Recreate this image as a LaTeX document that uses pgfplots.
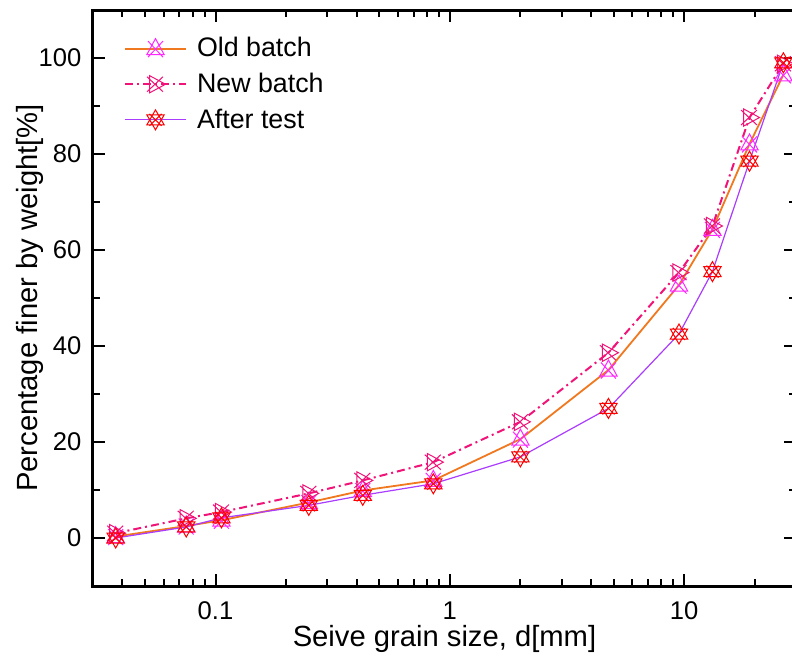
\documentclass[border=0pt]{standalone}
\usepackage{pgfplots}
\pgfplotsset{compat=1.18}
\usepackage{fontspec}
\setmainfont{Liberation Sans}
\definecolor{oldline}{RGB}{240,120,30}
\definecolor{oldmark}{RGB}{255,40,255}
\definecolor{newcol}{RGB}{240,20,120}
\definecolor{afterline}{RGB}{170,60,255}
\definecolor{aftermark}{RGB}{255,0,0}
\pgfdeclareplotmark{tricross}{%
  \pgfpathmoveto{\pgfqpoint{0pt}{\pgfplotmarksize}}%
  \pgfpathlineto{\pgfqpoint{0.866\pgfplotmarksize}{-0.6\pgfplotmarksize}}%
  \pgfpathlineto{\pgfqpoint{-0.866\pgfplotmarksize}{-0.6\pgfplotmarksize}}%
  \pgfpathclose
  \pgfpathmoveto{\pgfqpoint{-0.75\pgfplotmarksize}{-0.85\pgfplotmarksize}}%
  \pgfpathlineto{\pgfqpoint{0.75\pgfplotmarksize}{0.75\pgfplotmarksize}}%
  \pgfpathmoveto{\pgfqpoint{-0.75\pgfplotmarksize}{0.75\pgfplotmarksize}}%
  \pgfpathlineto{\pgfqpoint{0.75\pgfplotmarksize}{-0.85\pgfplotmarksize}}%
  \pgfusepathqstroke
}
\pgfdeclareplotmark{rtricross}{%
  \pgfpathmoveto{\pgfqpoint{\pgfplotmarksize}{0pt}}%
  \pgfpathlineto{\pgfqpoint{-0.6\pgfplotmarksize}{0.866\pgfplotmarksize}}%
  \pgfpathlineto{\pgfqpoint{-0.6\pgfplotmarksize}{-0.866\pgfplotmarksize}}%
  \pgfpathclose
  \pgfpathmoveto{\pgfqpoint{-0.85\pgfplotmarksize}{-0.75\pgfplotmarksize}}%
  \pgfpathlineto{\pgfqpoint{0.75\pgfplotmarksize}{0.75\pgfplotmarksize}}%
  \pgfpathmoveto{\pgfqpoint{-0.85\pgfplotmarksize}{0.75\pgfplotmarksize}}%
  \pgfpathlineto{\pgfqpoint{0.75\pgfplotmarksize}{-0.75\pgfplotmarksize}}%
  \pgfusepathqstroke
}
\pgfdeclareplotmark{starcross}{%
  \pgfpathmoveto{\pgfqpoint{0pt}{\pgfplotmarksize}}%
  \pgfpathlineto{\pgfqpoint{0.866\pgfplotmarksize}{-0.5\pgfplotmarksize}}%
  \pgfpathlineto{\pgfqpoint{-0.866\pgfplotmarksize}{-0.5\pgfplotmarksize}}%
  \pgfpathclose
  \pgfpathmoveto{\pgfqpoint{0pt}{-\pgfplotmarksize}}%
  \pgfpathlineto{\pgfqpoint{0.866\pgfplotmarksize}{0.5\pgfplotmarksize}}%
  \pgfpathlineto{\pgfqpoint{-0.866\pgfplotmarksize}{0.5\pgfplotmarksize}}%
  \pgfpathclose
  \pgfpathmoveto{\pgfqpoint{-0.6\pgfplotmarksize}{-0.6\pgfplotmarksize}}%
  \pgfpathlineto{\pgfqpoint{0.6\pgfplotmarksize}{0.6\pgfplotmarksize}}%
  \pgfpathmoveto{\pgfqpoint{-0.6\pgfplotmarksize}{0.6\pgfplotmarksize}}%
  \pgfpathlineto{\pgfqpoint{0.6\pgfplotmarksize}{-0.6\pgfplotmarksize}}%
  \pgfusepathqstroke
}
\begin{document}
\begin{tikzpicture}
\begin{axis}[
  xmode=log,
  scale only axis,
  width=351.5pt, height=288pt,
  xmin=0.03, xmax=30, ymin=-10, ymax=110,
  xtick={0.1,1,10}, xticklabels={0.1,1,10},
  minor xtick={0.04,0.05,0.06,0.07,0.08,0.09,0.2,0.3,0.4,0.5,0.6,0.7,0.8,0.9,2,3,4,5,6,7,8,9,20},
  ytick={0,20,40,60,80,100},
  minor ytick={10,30,50,70,90},
  tick align=inside,
  major tick length=6pt, minor tick length=3.5pt,
  every tick/.style={black, line width=1pt},
  axis line style={line width=1.5pt},
  /pgf/number format/assume math mode=true,
  tick label style={font=\fontsize{12.8}{15}\selectfont},
  xticklabel style={inner sep=0pt, yshift=-7.6pt},
  yticklabel style={xshift=-2.3pt},
  xlabel={Seive grain size, d[mm]},
  ylabel={Percentage finer by weight[\%]},
  every axis x label/.style={at={(axis description cs:0.5,0)}, anchor=center, inner sep=0pt, yshift=-26.5pt, font=\fontsize{14.6}{17}\selectfont},
  every axis y label/.style={at={(axis description cs:0,0.5)}, anchor=center, xshift=-31.5pt, rotate=90, font=\fontsize{14.6}{17}\selectfont},
  legend cell align=left,
  legend style={draw=none, fill=none, at={(axis description cs:0.035,0.967)}, anchor=north west,
    font=\fontsize{13.4}{16}\selectfont, row sep=2.6pt},
  legend image code/.code={\draw[mark repeat=2,mark phase=2] plot coordinates {(0pt,0pt) (15.25pt,0pt) (30.5pt,0pt)}; \path (33.5pt,0pt);},
  mark size=5pt,
]
\addplot[color=oldline, line width=0.9pt, mark=tricross, mark options={draw=oldmark, solid, line width=0.5pt}]
coordinates {(0.0375,0.3) (0.075,2.5) (0.106,3.7) (0.25,7.4) (0.425,9.9) (0.85,12.0) (2.0,20.6) (4.75,35.0) (9.5,52.7) (13.2,64.3) (19.0,82.1) (26.5,96.5)};
\addlegendentry{Old batch}
\addplot[color=newcol, line width=1pt, dash pattern=on 4pt off 2pt on 1pt off 2pt, mark=rtricross, mark options={solid, line width=0.5pt}]
coordinates {(0.0375,1.0) (0.075,4.1) (0.106,5.4) (0.25,9.3) (0.425,12.0) (0.85,15.8) (2.0,24.2) (4.75,38.6) (9.5,55.3) (13.2,65.0) (19.0,87.6) (26.5,98.8)};
\addlegendentry{New batch}
\addplot[color=afterline, line width=0.6pt, mark=starcross, mark options={draw=aftermark, solid, line width=0.5pt}]
coordinates {(0.0375,0.0) (0.075,2.3) (0.106,4.2) (0.25,6.8) (0.425,8.9) (0.85,11.3) (2.0,16.9) (4.75,27.0) (9.5,42.5) (13.2,55.5) (19.0,78.5) (26.5,99.0)};
\addlegendentry{After test}
\end{axis}
\pgfresetboundingbox
\path[use as bounding box] ([xshift=-46.5pt,yshift=-37pt]current axis.south west) rectangle ([xshift=-2pt,yshift=5pt]current axis.north east);
\end{tikzpicture}
\end{document}
